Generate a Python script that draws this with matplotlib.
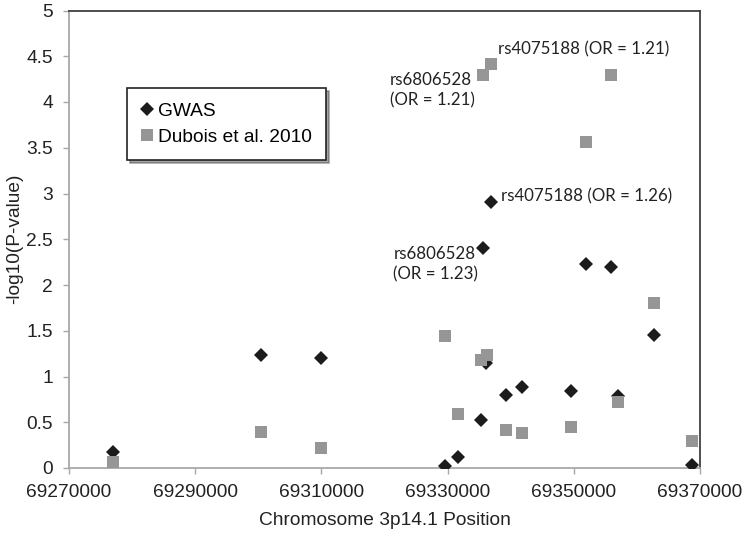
import matplotlib
matplotlib.use("Agg")
import matplotlib.pyplot as plt

# Positions (bp) on chromosome 3p14.1
gwas_pos = [69277050, 69300350, 69310000, 69329570, 69331700, 69335300, 69335540,
            69336800, 69336100, 69339260, 69341800, 69349500, 69351900, 69355900,
            69357000, 69362700, 69368700]
gwas_logp = [0.17, 1.24, 1.20, 0.02, 0.12, 0.53, 2.40,
             2.91, 1.15, 0.80, 0.88, 0.84, 2.23, 2.20,
             0.79, 1.45, 0.03]

dubois_pos = [69277050, 69300350, 69310000, 69329570, 69331700, 69335300, 69336200,
              69335540, 69336800, 69339260, 69341800, 69349500, 69351900, 69355900,
              69357000, 69362700, 69368700]
dubois_logp = [0.07, 0.39, 0.22, 1.44, 0.59, 1.18, 1.23,
               4.30, 4.42, 0.42, 0.38, 0.45, 3.56, 4.30,
               0.72, 1.80, 0.29]

x_ticks = [69270000, 69290000, 69310000, 69330000, 69350000, 69370000]
y_ticks = [0, 0.5, 1, 1.5, 2, 2.5, 3, 3.5, 4, 4.5, 5]

annotations = [
    ("rs4075188 (OR = 1.21)", 69338000, 4.58),
    ("rs6806528\n(OR = 1.21)", 69320900, 4.13),
    ("rs4075188 (OR = 1.26)", 69338400, 2.97),
    ("rs6806528\n(OR = 1.23)", 69321400, 2.23),
]

plt.rcParams['font.family'] = ['Liberation Sans', 'DejaVu Sans']

fig = plt.figure(figsize=(7.46, 5.35), dpi=100)
ax = fig.add_axes([69/746, 1-468/535, (700-69)/746, (468-10.5)/535])

ax.plot(gwas_pos, gwas_logp, linestyle='none', marker='D', ms=7, color='#1c1c1c',
        markeredgewidth=0, label='GWAS', zorder=3)
ax.plot(dubois_pos, dubois_logp, linestyle='none', marker='s', ms=8.5, color='#969696',
        markeredgewidth=0, label='Dubois et al. 2010', zorder=4)

ax.set_xlim(69270000, 69370000)
ax.set_ylim(0, 5)
ax.set_xticks(x_ticks)
ax.set_xticklabels([str(v) for v in x_ticks])
ax.set_yticks(y_ticks)
ax.set_yticklabels([f"{v:g}" for v in y_ticks])

for side in ['left', 'bottom']:
    ax.spines[side].set_color('#a8a8a8')
    ax.spines[side].set_linewidth(1.3)
for side in ['top', 'right']:
    ax.spines[side].set_color('#404040')
    ax.spines[side].set_linewidth(1.3)

ax.tick_params(axis='both', direction='out', length=4.5, width=1, color='#a8a8a8',
               labelsize=13.8, labelcolor='#222222')
ax.tick_params(axis='y', pad=7)
ax.tick_params(axis='x', pad=7)

ax.set_xlabel('Chromosome 3p14.1 Position', fontsize=13.8, color='#222222', labelpad=8)
ax.set_ylabel('-log10(P-value)', fontsize=13.8, color='#222222', va='center')
ax.yaxis.set_label_coords((15 - 69) / 631, 0.5)

for text, x, y in annotations:
    ax.text(x, y, text, fontsize=12.2, family=['Lato', 'DejaVu Sans'], color='#222222',
            ha='left', va='center', linespacing=1.3, zorder=5)

leg = ax.legend(loc='upper left', bbox_to_anchor=((127-69)/631, (468-88)/457.5),
                frameon=True, fancybox=False, shadow=True, fontsize=13.8,
                handlelength=0.6, handletextpad=0.25, borderpad=0.75, labelspacing=0.45,
                borderaxespad=0)
leg.get_frame().set_edgecolor('#222222')
leg.get_frame().set_linewidth(1.2)

fig.savefig('out.png', dpi=100)
